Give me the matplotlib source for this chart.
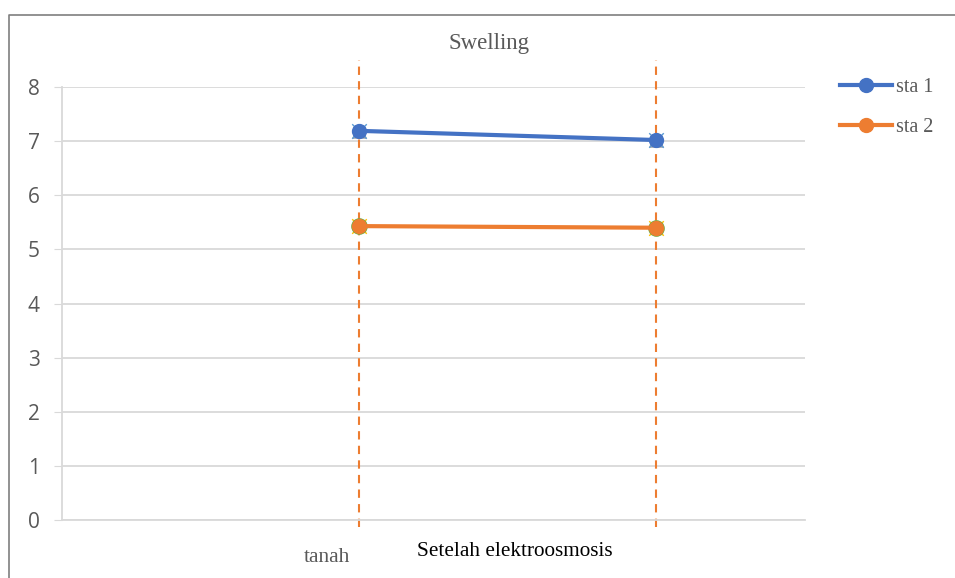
import matplotlib.pyplot as plt
from matplotlib.lines import Line2D

# data
categories = [1, 2]
sta1 = [7.19, 7.02]
sta2 = [5.43, 5.40]
series_names = ['sta 1', 'sta 2']

fig = plt.figure(figsize=(9.55, 5.78), dpi=100)
W, H = 955, 578
ax = fig.add_axes([62 / W, 1 - 520 / H, (805 - 62) / W, (520 - 87) / H])

# outer frame of the chart (only left and top edges show)
fig.lines.append(Line2D([8.5 / W, 8.5 / W, 1], [0, 1 - 15 / H, 1 - 15 / H],
                        transform=fig.transFigure, color='#7f7f7f', linewidth=1.2))

ax.plot(categories, sta1, color='#4472c4', linewidth=3, zorder=3, label=series_names[0],
        marker='o', markersize=10)
ax.plot(categories, sta2, color='#ed7d31', linewidth=3, zorder=3, label=series_names[1],
        marker='o', markersize=10)
# extra marker bits behind the points
ax.scatter(categories, sta1, marker='^', s=90, color='#a5a5a5', zorder=2)
ax.scatter(categories, sta1, marker='x', s=110, color='#5b9bd5', linewidths=1, zorder=2)
ax.scatter(categories, sta2, marker='x', s=110, color='#ffc000', linewidths=1, zorder=2)
ax.scatter(categories, sta2, marker='o', s=120, color='#70ad47', zorder=2)

# dashed vertical lines at the two points
for c in categories:
    ax.plot([c, c], [-0.13, 8.5], color='#ed7d31', linestyle=(0, (4, 3)), linewidth=1.5,
            clip_on=False, zorder=1)

ax.set_xlim(0, 2.5)
ax.set_ylim(0, 8)
ax.set_yticks(range(0, 9))
ax.set_xticks([])
ax.grid(axis='y', color='#d9d9d9', linewidth=1.3)
ax.set_axisbelow(True)
for s in ['top', 'right']:
    ax.spines[s].set_visible(False)
ax.spines['left'].set_color('#d9d9d9')
ax.spines['bottom'].set_color('#d9d9d9')
ax.spines['left'].set_linewidth(1.3)
ax.spines['bottom'].set_linewidth(1.3)
ax.tick_params(axis='y', length=6, color='#d9d9d9', labelsize=15, labelcolor='#595959', pad=10)
for lab in ax.get_yticklabels():
    lab.set_fontfamily('Open Sans')

fig.text(489 / W, 1 - 44 / H, 'Swelling', ha='center', va='center',
         fontsize=16.5, color='#595959', family='Liberation Serif')
fig.text(327 / W, 1 - 557 / H, 'tanah', ha='center', va='center',
         fontsize=15.5, color='#595959', family='Liberation Serif')
fig.text(515 / W, 1 - 551 / H, 'Setelah elektroosmosis', ha='center', va='center',
         fontsize=15.3, color='black', family='Liberation Serif')

leg = fig.legend(loc='upper left', bbox_to_anchor=(822 / W, 1 - 60 / H), frameon=False,
                 prop={'family': 'Liberation Serif', 'size': 14.5}, handlelength=2.6,
                 labelspacing=1.05, handletextpad=0.15, markerscale=1.0)
for t in leg.get_texts():
    t.set_color('#595959')

fig.savefig('out.png', dpi=100)
